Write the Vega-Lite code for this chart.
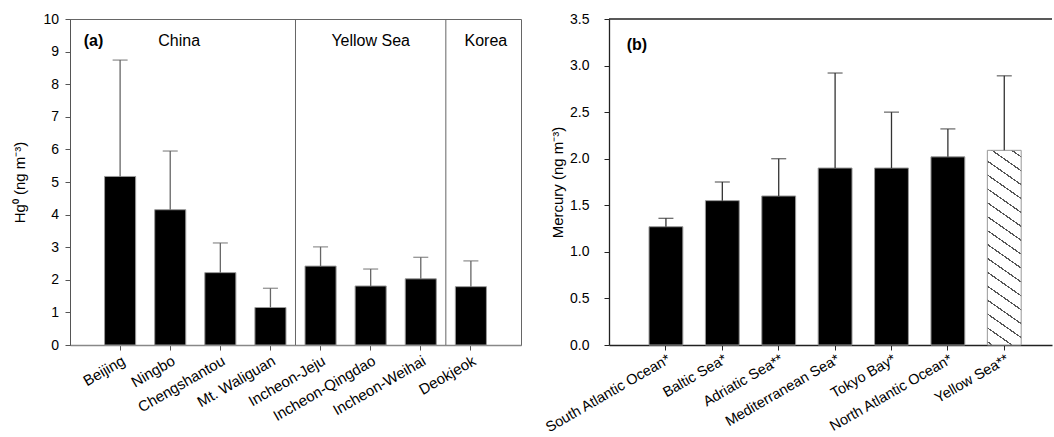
{
  "$schema": "https://vega.github.io/schema/vega-lite/v6.json",
  "padding": {"left": 12, "top": 11, "right": 0, "bottom": 0},
  "bounds": "flush",
  "spacing": 88,
  "config": {
    "font": "Liberation Sans",
    "view": {"stroke": null},
    "axis": {
      "labelFont": "Liberation Sans",
      "titleFont": "Liberation Sans",
      "labelColor": "#000",
      "titleColor": "#000",
      "grid": false,
      "labelFontSize": 14,
      "titleFontSize": 15,
      "titleFontWeight": "normal",
      "tickSize": 5,
      "labelOverlap": false
    },
    "text": {"font": "Liberation Sans", "color": "#000"}
  },
  "datasets": {
    "sites": [
      {"site": "Beijing", "mean": 5.17, "upper": 8.74},
      {"site": "Ningbo", "mean": 4.15, "upper": 5.95},
      {"site": "Chengshantou", "mean": 2.22, "upper": 3.13},
      {"site": "Mt. Waliguan", "mean": 1.15, "upper": 1.74},
      {"site": "Incheon-Jeju", "mean": 2.42, "upper": 3.01},
      {"site": "Incheon-Qingdao", "mean": 1.81, "upper": 2.33},
      {"site": "Incheon-Weihai", "mean": 2.03, "upper": 2.69},
      {"site": "Deokjeok", "mean": 1.79, "upper": 2.58}
    ],
    "oceans": [
      {"site": "South Atlantic Ocean*", "mean": 1.27, "upper": 1.36},
      {"site": "Baltic Sea*", "mean": 1.55, "upper": 1.75},
      {"site": "Adriatic Sea**", "mean": 1.6, "upper": 2.0},
      {"site": "Mediterranean Sea*", "mean": 1.9, "upper": 2.92},
      {"site": "Tokyo Bay*", "mean": 1.9, "upper": 2.5},
      {"site": "North Atlantic Ocean*", "mean": 2.02, "upper": 2.32},
      {"site": "Yellow Sea**", "mean": 2.09, "upper": 2.89}
    ],
    "separators": [
      {"site": "Incheon-Jeju"},
      {"site": "Deokjeok"}
    ]
  },
  "hconcat": [
    {
      "width": 451,
      "height": 326,
      "view": {"stroke": "#666", "strokeWidth": 1},
      "data": {"name": "sites"},
      "layer": [
        {
          "mark": {"type": "bar", "fill": "#000", "stroke": "#999", "strokeWidth": 1},
          "encoding": {
            "x": {
              "field": "site", "type": "nominal", "sort": null,
              "scale": {
                "domain": ["Beijing", "Ningbo", "Chengshantou", "Mt. Waliguan", "Incheon-Jeju", "Incheon-Qingdao", "Incheon-Weihai", "Deokjeok"],
                "paddingInner": 0.38, "paddingOuter": 0.69
              },
              "axis": {
                "title": null, "labelAngle": -30, "labelAlign": "right", "labelBaseline": "top",
                "labelFontSize": 15, "labelPadding": 3, "domainColor": "#888", "domainWidth": 1.5, "tickColor": "#555"
              }
            },
            "y": {
              "field": "mean", "type": "quantitative",
              "scale": {"domain": [0, 10], "nice": false},
              "axis": {
                "title": "Hg⁰ (ng m⁻³)", "values": [0, 1, 2, 3, 4, 5, 6, 7, 8, 9, 10], "tickCount": 11,
                "labelOverlap": false, "labelBound": false,
                "domainColor": "#555", "tickColor": "#555", "labelPadding": 6.5, "titlePadding": 15
              }
            }
          }
        },
        {
          "mark": {"type": "rule", "color": "#666", "strokeWidth": 1.3},
          "encoding": {
            "x": {"field": "site", "type": "nominal", "sort": null},
            "y": {"field": "mean", "type": "quantitative"},
            "y2": {"field": "upper"}
          }
        },
        {
          "mark": {"type": "tick", "color": "#666", "size": 15, "thickness": 1.3},
          "encoding": {
            "x": {"field": "site", "type": "nominal", "sort": null},
            "y": {"field": "upper", "type": "quantitative"}
          }
        },
        {
          "data": {"name": "separators"},
          "mark": {"type": "rule", "color": "#666", "strokeWidth": 1},
          "encoding": {
            "x": {"field": "site", "type": "nominal", "sort": null, "bandPosition": -0.3065}
          }
        },
        {
          "data": {"values": [{}]},
          "mark": {"type": "text", "fontSize": 16, "dx": 9, "baseline": "middle", "align": "center"},
          "encoding": {"x": {"datum": "Ningbo"}, "y": {"datum": 9.34}, "text": {"value": "China"}}
        },
        {
          "data": {"values": [{}]},
          "mark": {"type": "text", "fontSize": 16, "dx": 0, "baseline": "middle", "align": "center"},
          "encoding": {"x": {"datum": "Incheon-Qingdao"}, "y": {"datum": 9.34}, "text": {"value": "Yellow Sea"}}
        },
        {
          "data": {"values": [{}]},
          "mark": {"type": "text", "fontSize": 16, "dx": 15, "baseline": "middle", "align": "center"},
          "encoding": {"x": {"datum": "Deokjeok"}, "y": {"datum": 9.34}, "text": {"value": "Korea"}}
        },
        {
          "data": {"values": [{}]},
          "mark": {"type": "text", "fontSize": 16, "fontWeight": "bold", "dx": -26.6, "baseline": "middle", "align": "center"},
          "encoding": {"x": {"datum": "Beijing"}, "y": {"datum": 9.34}, "text": {"value": "(a)"}}
        }
      ]
    },
    {
      "width": 443,
      "height": 326,
      "data": {"name": "oceans"},
      "layer": [
        {
          "transform": [{"filter": "datum.site !== 'Yellow Sea**'"}],
          "mark": {"type": "bar", "fill": "#000", "stroke": "#999", "strokeWidth": 1},
          "encoding": {
            "x": {
              "field": "site", "type": "nominal", "sort": null,
              "scale": {
                "domain": ["South Atlantic Ocean*", "Baltic Sea*", "Adriatic Sea**", "Mediterranean Sea*", "Tokyo Bay*", "North Atlantic Ocean*", "Yellow Sea**"],
                "paddingInner": 0.4, "paddingOuter": 0.628, "align": 0.565
              },
              "axis": {
                "title": null, "labelAngle": -30, "labelAlign": "right", "labelBaseline": "top",
                "labelFontSize": 14.5, "labelPadding": 2, "domainColor": "#222", "domainWidth": 1.3, "tickColor": "#222"
              }
            },
            "y": {
              "field": "mean", "type": "quantitative",
              "scale": {"domain": [0, 3.5], "nice": false},
              "axis": {
                "title": "Mercury (ng m⁻³)", "values": [0, 0.5, 1, 1.5, 2, 2.5, 3, 3.5], "format": ".1f",
                "labelOverlap": false,
                "domainColor": "#222", "domainWidth": 1.3, "tickColor": "#222", "labelPadding": 15, "titlePadding": 4
              }
            }
          }
        },
        {
          "transform": [{"filter": "datum.site === 'Yellow Sea**'"}],
          "mark": {
            "type": "bar", "stroke": "#999", "strokeWidth": 1,
            "fill": {
              "gradient": "linear", "x1": 1, "y1": 0, "x2": 0.8657, "y2": 1.1053,
              "stops": [
                {"offset": 0, "color": "#fff"},
                {"offset": 0.0265, "color": "#fff"}, {"offset": 0.0265, "color": "#555"}, {"offset": 0.0335, "color": "#555"}, {"offset": 0.0335, "color": "#fff"},
                {"offset": 0.0902, "color": "#fff"}, {"offset": 0.0902, "color": "#555"}, {"offset": 0.0972, "color": "#555"}, {"offset": 0.0972, "color": "#fff"},
                {"offset": 0.1538, "color": "#fff"}, {"offset": 0.1538, "color": "#555"}, {"offset": 0.1608, "color": "#555"}, {"offset": 0.1608, "color": "#fff"},
                {"offset": 0.2175, "color": "#fff"}, {"offset": 0.2175, "color": "#555"}, {"offset": 0.2245, "color": "#555"}, {"offset": 0.2245, "color": "#fff"},
                {"offset": 0.2811, "color": "#fff"}, {"offset": 0.2811, "color": "#555"}, {"offset": 0.2881, "color": "#555"}, {"offset": 0.2881, "color": "#fff"},
                {"offset": 0.3448, "color": "#fff"}, {"offset": 0.3448, "color": "#555"}, {"offset": 0.3518, "color": "#555"}, {"offset": 0.3518, "color": "#fff"},
                {"offset": 0.4084, "color": "#fff"}, {"offset": 0.4084, "color": "#555"}, {"offset": 0.4154, "color": "#555"}, {"offset": 0.4154, "color": "#fff"},
                {"offset": 0.4721, "color": "#fff"}, {"offset": 0.4721, "color": "#555"}, {"offset": 0.4791, "color": "#555"}, {"offset": 0.4791, "color": "#fff"},
                {"offset": 0.5357, "color": "#fff"}, {"offset": 0.5357, "color": "#555"}, {"offset": 0.5427, "color": "#555"}, {"offset": 0.5427, "color": "#fff"},
                {"offset": 0.5994, "color": "#fff"}, {"offset": 0.5994, "color": "#555"}, {"offset": 0.6064, "color": "#555"}, {"offset": 0.6064, "color": "#fff"},
                {"offset": 0.6630, "color": "#fff"}, {"offset": 0.6630, "color": "#555"}, {"offset": 0.6700, "color": "#555"}, {"offset": 0.6700, "color": "#fff"},
                {"offset": 0.7267, "color": "#fff"}, {"offset": 0.7267, "color": "#555"}, {"offset": 0.7337, "color": "#555"}, {"offset": 0.7337, "color": "#fff"},
                {"offset": 0.7903, "color": "#fff"}, {"offset": 0.7903, "color": "#555"}, {"offset": 0.7973, "color": "#555"}, {"offset": 0.7973, "color": "#fff"},
                {"offset": 0.8540, "color": "#fff"}, {"offset": 0.8540, "color": "#555"}, {"offset": 0.8610, "color": "#555"}, {"offset": 0.8610, "color": "#fff"},
                {"offset": 0.9176, "color": "#fff"}, {"offset": 0.9176, "color": "#555"}, {"offset": 0.9246, "color": "#555"}, {"offset": 0.9246, "color": "#fff"},
                {"offset": 0.9813, "color": "#fff"}, {"offset": 0.9813, "color": "#555"}, {"offset": 0.9883, "color": "#555"}, {"offset": 0.9883, "color": "#fff"},
                {"offset": 1, "color": "#fff"}
              ]
            }
          },
          "encoding": {
            "x": {"field": "site", "type": "nominal", "sort": null},
            "y": {"field": "mean", "type": "quantitative"}
          }
        },
        {
          "mark": {"type": "rule", "color": "#333", "strokeWidth": 1.3},
          "encoding": {
            "x": {"field": "site", "type": "nominal", "sort": null},
            "y": {"field": "mean", "type": "quantitative"},
            "y2": {"field": "upper"}
          }
        },
        {
          "mark": {"type": "tick", "color": "#333", "size": 15, "thickness": 1.3},
          "encoding": {
            "x": {"field": "site", "type": "nominal", "sort": null},
            "y": {"field": "upper", "type": "quantitative"}
          }
        },
        {
          "data": {"values": [{}]},
          "mark": {"type": "rule", "color": "#222", "strokeWidth": 1.6},
          "encoding": {"y": {"datum": 3.5}}
        },
        {
          "data": {"values": [{}]},
          "mark": {"type": "text", "fontSize": 16, "fontWeight": "bold", "dx": -29, "baseline": "middle", "align": "center"},
          "encoding": {"x": {"datum": "South Atlantic Ocean*"}, "y": {"datum": 3.22}, "text": {"value": "(b)"}}
        }
      ]
    }
  ]
}
